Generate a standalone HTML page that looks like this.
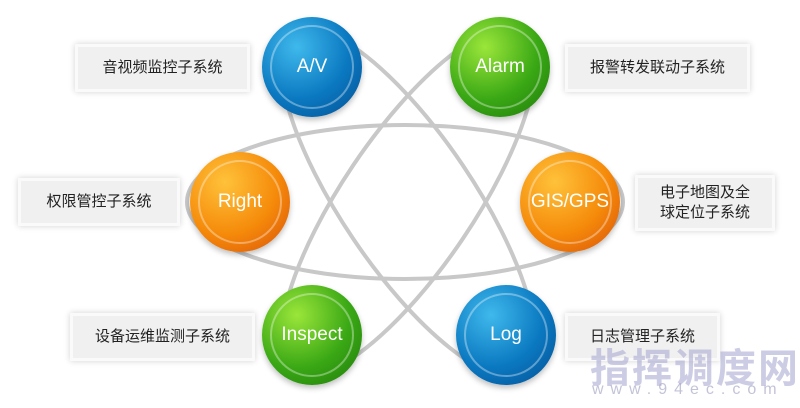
<!DOCTYPE html><html><head><meta charset="utf-8"><style>
body{margin:0;width:800px;height:408px;background:#fff;position:relative;overflow:hidden;font-family:"Liberation Sans","Noto Sans CJK SC",sans-serif}
.lb{position:absolute;background:#f0f0f0;border:3px solid #fafafa;box-shadow:0 0 6px rgba(0,0,0,.18);font-size:15px;color:#222;display:flex;align-items:center;justify-content:center;text-align:center;line-height:20px;box-sizing:border-box}
.c{position:absolute;width:100px;height:100px;border-radius:50%;color:#fff;font-size:19px;display:flex;align-items:center;justify-content:center;box-shadow:0 3px 6px rgba(0,0,0,.25)}
.c::after{content:"";position:absolute;left:8px;top:8px;right:8px;bottom:8px;border-radius:50%;border:2px solid rgba(255,255,255,.35)}
.b{background:radial-gradient(circle at 35% 30%,#3fb9ec,#0a78c0 55%,#064f93)}
.g{background:radial-gradient(circle at 35% 30%,#9be63a,#3aa815 55%,#1e7a0a)}
.o{background:radial-gradient(circle at 35% 30%,#ffc23a,#f58a0a 55%,#d8500a)}
</style></head><body>
<svg width="800" height="408" style="position:absolute;left:0;top:0">
<g fill="none" stroke="#c8c8c8" stroke-width="4">
<ellipse cx="405" cy="202" rx="218" ry="77"/>
<ellipse cx="408" cy="202" rx="205" ry="66" transform="rotate(56 408 202)"/>
<ellipse cx="408" cy="202" rx="205" ry="66" transform="rotate(-56 408 202)"/>
</g></svg>
<div class="lb" style="left:75px;top:44px;width:175px;height:48px">音视频监控子系统</div>
<div class="lb" style="left:18px;top:178px;width:162px;height:48px">权限管控子系统</div>
<div class="lb" style="left:70px;top:313px;width:185px;height:48px">设备运维监测子系统</div>
<div class="lb" style="left:565px;top:44px;width:185px;height:48px">报警转发联动子系统</div>
<div class="lb" style="left:635px;top:175px;width:140px;height:56px">电子地图及全<br>球定位子系统</div>
<div class="lb" style="left:565px;top:313px;width:155px;height:48px">日志管理子系统</div>
<div class="c b" style="left:262px;top:17px">A/V</div>
<div class="c g" style="left:450px;top:17px">Alarm</div>
<div class="c o" style="left:190px;top:152px">Right</div>
<div class="c o" style="left:520px;top:152px">GIS/GPS</div>
<div class="c g" style="left:262px;top:285px">Inspect</div>
<div class="c b" style="left:456px;top:285px">Log</div>
<div style="position:absolute;left:590px;top:336px;font-size:40px;font-weight:bold;color:rgba(170,170,210,.6);letter-spacing:2px">指挥调度网</div>
<div style="position:absolute;left:592px;top:381px;font-size:16px;color:rgba(170,170,200,.7);letter-spacing:7px">www.94ec.com</div>
</body></html>
